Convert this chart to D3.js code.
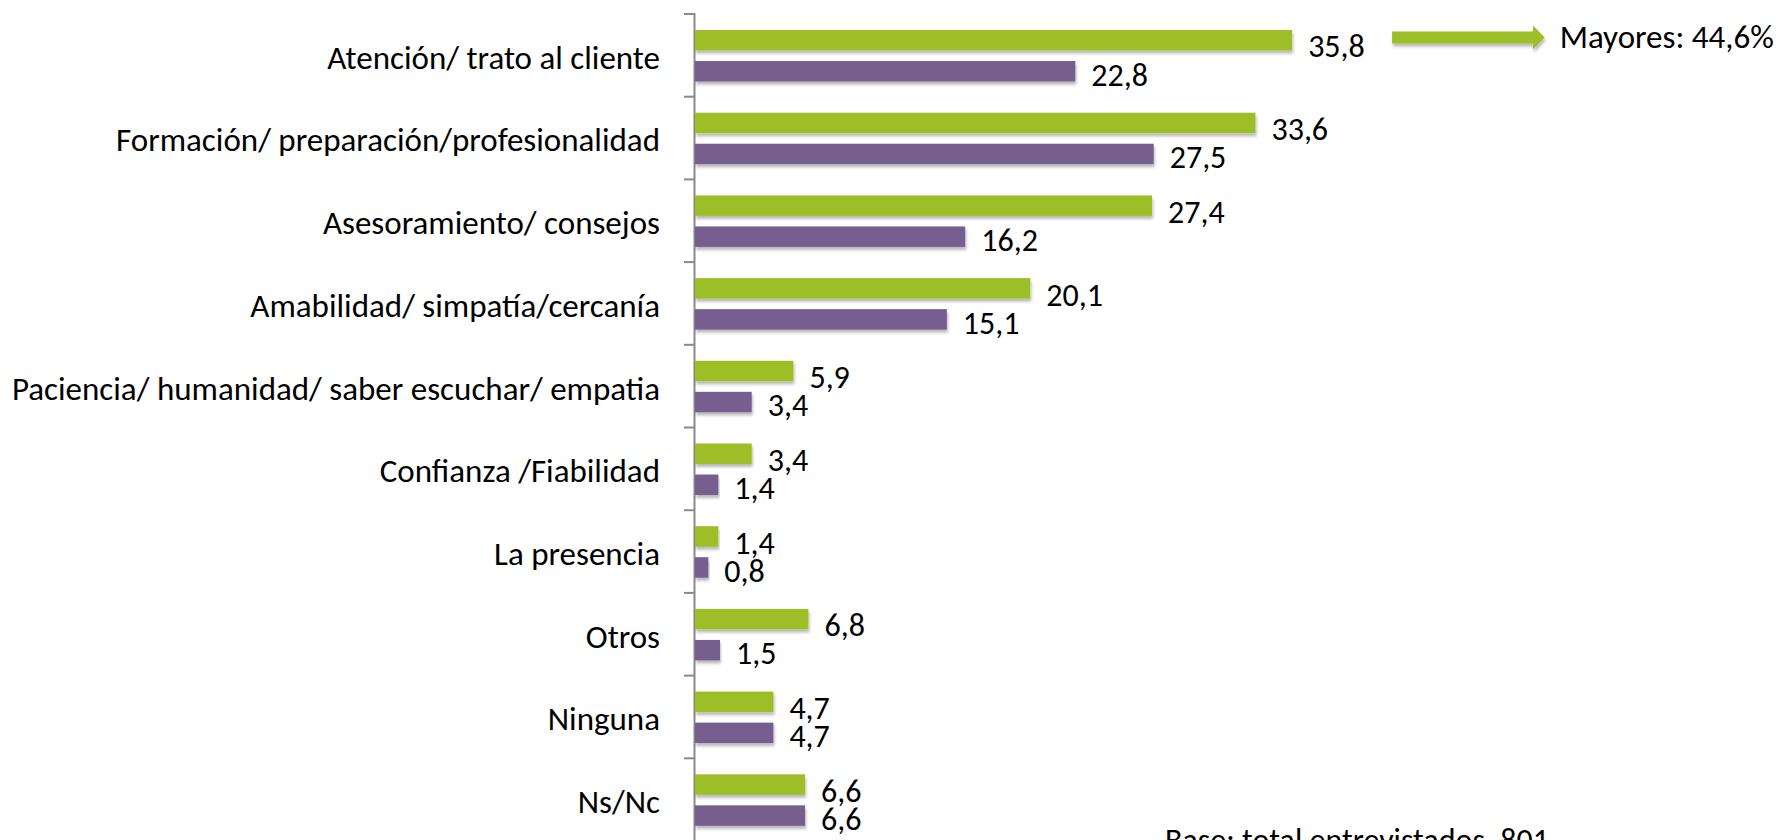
<!DOCTYPE html>
<html>
<head>
<meta charset="utf-8">
<script src="https://cdn.jsdelivr.net/npm/d3@7"></script>
<style>
  body { margin: 0; background: #fff; }
  text { font-family: Carlito, Lato, "Open Sans", sans-serif; fill: #000; }
</style>
</head>
<body>
<div class="chart"></div>
<script>
// datos
var categorias = ['Atención/ trato al cliente', 'Formación/ preparación/profesionalidad', 'Asesoramiento/ consejos',
    'Amabilidad/ simpatía/cercanía', 'Paciencia/ humanidad/ saber escuchar/ empatia', 'Confianza /Fiabilidad',
    'La presencia', 'Otros', 'Ninguna', 'Ns/Nc'];
var serieVerde = [35.8, 33.6, 27.4, 20.1, 5.9, 3.4, 1.4, 6.8, 4.7, 6.6];
var seriePurpura = [22.8, 27.5, 16.2, 15.1, 3.4, 1.4, 0.8, 1.5, 4.7, 6.6];
var nota = 'Mayores: 44,6%';
var base = 'Base: total entrevistados. 801';

var width = 1784, height = 840;
var colores = {verde: '#9dbe27', purpura: '#765e8e'};

var svg = d3.select('.chart').append('svg').attr('width', width).attr('height', height);

var defs = svg.append('defs');
defs.append('filter').attr('id', 'sombra').attr('x', '-5%').attr('y', '-40%').attr('width', '110%').attr('height', '200%')
    .append('feDropShadow').attr('dx', 1).attr('dy', 3).attr('stdDeviation', 1.8)
    .attr('flood-color', '#000').attr('flood-opacity', 0.28);

var x = d3.scaleLinear().domain([0, 45]).range([694, 694 + 45 * 16.68]);
var y = d3.scaleBand().domain(categorias).range([13.5, 840.5]);
var yIdx = d3.scaleLinear().domain([0, categorias.length]).range([13.5, 840.5]);
var ySub = d3.scaleBand().domain(['verde', 'purpura']).range([16.5, 68]).paddingInner(0.34);

var locale = d3.formatLocale({decimal: ',', thousands: '.', grouping: [3], currency: ['', '€']});
var fmt = locale.format('.1f');

var filas = categorias.map(function(c, i) {
    return {cat: c, verde: serieVerde[i], purpura: seriePurpura[i]};
});

// eje con marcas entre categorias
var eje = svg.append('g').attr('transform', 'translate(' + x(0) + ',0)')
    .call(d3.axisLeft(yIdx).ticks(categorias.length).tickSize(10).tickSizeOuter(10).tickFormat(''));
eje.selectAll('path,line').attr('stroke', '#8a8a8a').attr('stroke-width', 2);

var etiquetas = svg.append('g').attr('transform', 'translate(' + (x(0) - 34) + ',0)')
    .call(d3.axisLeft(y).tickSize(0).tickPadding(0));
etiquetas.select('.domain').remove();
etiquetas.selectAll('text').attr('font-size', 33).attr('dy', '0.42em')
    .style('font-family', 'Carlito, Lato, "Open Sans", sans-serif').attr('fill', '#000');

var grupos = svg.selectAll('.fila').data(filas).enter().append('g')
    .attr('class', 'fila').attr('transform', d => 'translate(0,' + y(d.cat) + ')');

['verde', 'purpura'].forEach(function(s) {
    grupos.append('rect').attr('x', x(0) + 1).attr('y', ySub(s))
        .attr('width', d => x(d[s]) - x(0)).attr('height', ySub.bandwidth())
        .attr('fill', colores[s]).attr('filter', 'url(#sombra)');
    grupos.append('text').attr('x', d => x(d[s]) + 17)
        .attr('y', ySub(s) + ySub.bandwidth() + (s == 'verde' ? 7 : 4))
        .attr('font-size', 32).text(d => fmt(d[s]));
});

// flecha de anotacion
var y0 = y(categorias[0]);
var ayC = y0 + 24;
var flecha = svg.append('path')
    .attr('d', 'M' + x(41.85) + ',' + (ayC - 6) + 'H' + x(50.3) + 'V' + (ayC - 12) + 'L' + x(51) + ',' + ayC +
        'L' + x(50.3) + ',' + (ayC + 12) + 'V' + (ayC + 6) + 'H' + x(41.85) + 'Z')
    .attr('fill', colores.verde).attr('filter', 'url(#sombra)');
svg.append('text').attr('x', x(51) + 15).attr('y', y0 + 34).attr('font-size', 33).text(nota);

svg.append('text').attr('x', 1165).attr('y', 851).attr('font-size', 32).text(base);
</script>
</body>
</html>
